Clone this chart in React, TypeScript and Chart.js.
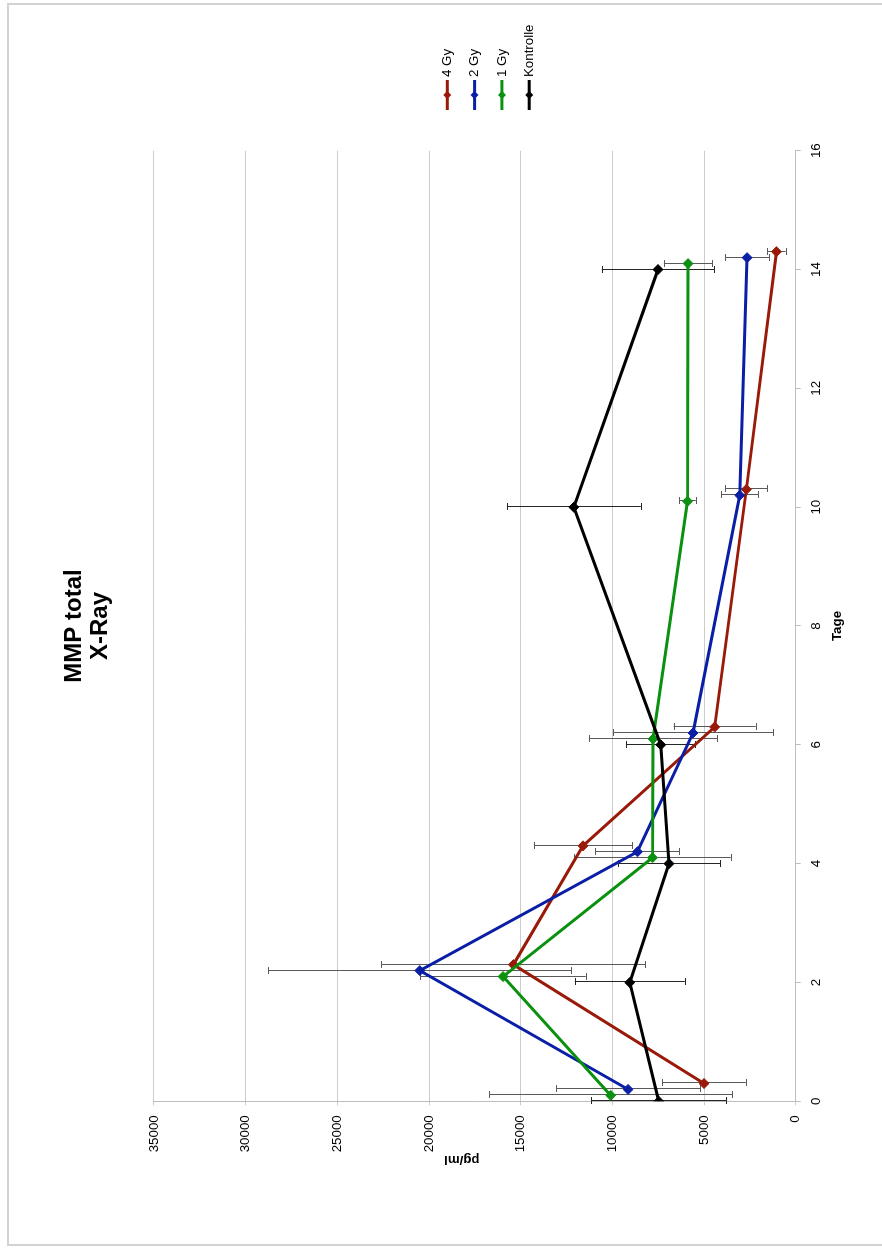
import { useEffect, useRef } from 'react';
import { Chart, registerables } from 'chart.js';

Chart.register(...registerables);

// Days (x values) per series, as plotted (slightly offset per series)
const daysKontrolle = [0, 2, 4, 6, 10, 14];
const days1Gy = [0.1, 2.1, 4.1, 6.1, 10.1, 14.1];
const days2Gy = [0.2, 2.2, 4.2, 6.2, 10.2, 14.2];
const days4Gy = [0.3, 2.3, 4.3, 6.3, 10.3, 14.3];

// Values in pg/ml
const values4Gy = [5000, 15400, 11600, 4420, 2690, 1050];
const errors4Gy = [2280, 7200, 2670, 2240, 1150, 500];
const values2Gy = [9140, 20500, 8630, 5600, 3050, 2650];
const errors2Gy = [3930, 8270, 2290, 4360, 1020, 1200];
const values1Gy = [10090, 15960, 7810, 7780, 5900, 5870];
const errors1Gy = [6630, 4510, 4270, 3500, 450, 1320];
const valuesKontrolle = [7470, 9050, 6910, 7360, 12100, 7510];
const errorsKontrolle = [3670, 3000, 2800, 1880, 3650, 3070];

const seriesLabels = ['4 Gy', '2 Gy', '1 Gy', 'Kontrolle'];
const seriesColors = ['#9a1a0a', '#0a1fa6', '#0a910f', '#000000'];

const titleLines = ['MMP total', 'X-Ray'];
const xAxisTitle = 'Tage';
const yAxisTitle = 'pg/ml';
const xMin = 0;
const xMax = 16;
const xStep = 2;
const yMin = 0;
const yMax = 35000;
const yStep = 5000;

const FONT = "'Liberation Sans', Arial, sans-serif";

function toPoints(days: number[], values: number[]) {
  return days.map((d, i) => ({ x: d, y: values[i] }));
}

const errorBarPlugin = {
  id: 'errorBars',
  beforeDatasetsDraw(chart: any) {
    const ctx = chart.ctx;
    const xs = chart.scales.x;
    const ys = chart.scales.y;
    ctx.save();
    chart.data.datasets.forEach((ds: any) => {
      const errs: number[] = ds.errors || [];
      ctx.strokeStyle = ds.errorColor || '#505050';
      ctx.lineWidth = 1;
      ds.data.forEach((p: any, i: number) => {
        const e = errs[i];
        if (e == null) return;
        const x = Math.round(xs.getPixelForValue(p.x)) + 0.5;
        const y1 = ys.getPixelForValue(p.y - e);
        const y2 = ys.getPixelForValue(p.y + e);
        ctx.beginPath();
        ctx.moveTo(x, y1);
        ctx.lineTo(x, y2);
        ctx.moveTo(x - 3.5, Math.round(y1) + 0.5);
        ctx.lineTo(x + 3.5, Math.round(y1) + 0.5);
        ctx.moveTo(x - 3.5, Math.round(y2) + 0.5);
        ctx.lineTo(x + 3.5, Math.round(y2) + 0.5);
        ctx.stroke();
      });
    });
    ctx.restore();
  },
};

const legendPlugin = {
  id: 'sideLegend',
  afterDraw(chart: any) {
    const ctx = chart.ctx;
    const area = chart.chartArea;
    const x0 = area.right + 40.7;
    const x1 = x0 + 30;
    const firstY = 439.3;
    const gap = 27.3;
    ctx.save();
    seriesLabels.forEach((label, i) => {
      const y = firstY + i * gap;
      const c = seriesColors[i];
      ctx.strokeStyle = c;
      ctx.fillStyle = c;
      ctx.lineWidth = 3;
      ctx.beginPath();
      ctx.moveTo(x0, y);
      ctx.lineTo(x1, y);
      ctx.stroke();
      const mx = (x0 + x1) / 2;
      const r = 4;
      ctx.beginPath();
      ctx.moveTo(mx - r, y);
      ctx.lineTo(mx, y - r);
      ctx.lineTo(mx + r, y);
      ctx.lineTo(mx, y + r);
      ctx.closePath();
      ctx.fill();
      ctx.fillStyle = '#000';
      ctx.font = `13.3px ${FONT}`;
      ctx.textAlign = 'left';
      ctx.textBaseline = 'middle';
      ctx.fillText(label, x1 + 3, y);
    });
    // value-axis title
    const ys = chart.scales.y;
    ctx.translate(ys.left + 86, area.top + (area.bottom - area.top) / 2 - 13);
    ctx.rotate(-Math.PI / 2);
    ctx.fillStyle = '#000';
    ctx.font = `bold 13.3px ${FONT}`;
    ctx.textAlign = 'center';
    ctx.textBaseline = 'middle';
    ctx.fillText(yAxisTitle, 0, 0);
    ctx.restore();
  },
};

export default function App() {
  const canvasRef = useRef<HTMLCanvasElement | null>(null);

  useEffect(() => {
    document.body.style.margin = '0';
    const canvas = canvasRef.current;
    if (!canvas) return;
    const mk = (i: number, days: number[], vals: number[], errs: number[], order: number) => ({
      label: seriesLabels[i],
      data: toPoints(days, vals),
      errors: errs,
      errorColor: i === 3 ? '#262626' : '#5a5a5a',
      showLine: true,
      borderColor: seriesColors[i],
      backgroundColor: seriesColors[i],
      borderWidth: 3,
      pointStyle: 'rectRot',
      pointRadius: 5,
      pointBorderWidth: 1,
      pointBackgroundColor: seriesColors[i],
      pointBorderColor: seriesColors[i],
      tension: 0,
      order,
    });
    const tickFont = { family: FONT, size: 13.3 };
    const chart = new Chart(canvas, {
      type: 'scatter',
      data: {
        datasets: [
          mk(0, days4Gy, values4Gy, errors4Gy, 3),
          mk(1, days2Gy, values2Gy, errors2Gy, 2),
          mk(2, days1Gy, values1Gy, errors1Gy, 1),
          mk(3, daysKontrolle, valuesKontrolle, errorsKontrolle, 0),
        ] as any,
      },
      options: {
        animation: false,
        responsive: false,
        devicePixelRatio: 1,
        events: [],
        layout: { padding: { left: 0, right: 146.7, top: 0, bottom: 0 } },
        plugins: {
          legend: { display: false },
          tooltip: { enabled: false },
          title: {
            display: true,
            text: titleLines,
            fullSize: false,
            color: '#000',
            font: { family: FONT, size: 24, weight: 'bold', lineHeight: 1.104 },
            padding: { top: 52.75, bottom: 40.25 },
          },
        },
        scales: {
          x: {
            type: 'linear',
            position: 'bottom',
            min: xMin,
            max: xMax,
            ticks: { stepSize: xStep, padding: 8, color: '#000', font: tickFont, maxRotation: 0, autoSkip: false },
            grid: { drawOnChartArea: false, drawTicks: true, tickLength: 5, color: '#bdbdbd' },
            border: { display: true, color: '#bdbdbd' },
            title: {
              display: true,
              text: xAxisTitle,
              color: '#000',
              font: { family: FONT, size: 13.3, weight: 'bold', lineHeight: 1.2 },
              padding: { top: 0, bottom: 35.5 },
            },
            afterFit: (s: any) => { s.height = 85.3; },
          },
          y: {
            type: 'linear',
            position: 'left',
            min: yMin,
            max: yMax,
            ticks: {
              stepSize: yStep,
              padding: 10,
              color: '#000',
              font: tickFont,
              callback: (v: any) => String(v),
            },
            grid: { color: '#cccccc', tickLength: 4 },
            border: { display: true, color: '#bdbdbd' },
            title: { display: false, text: yAxisTitle },
            afterFit: (s: any) => { s.width = 144.7; },
          },
        },
      } as any,
      plugins: [errorBarPlugin, legendPlugin],
    });
    return () => chart.destroy();
  }, []);

  return (
    <div style={{ position: 'absolute', left: 0, top: 0, width: 882, height: 1248, overflow: 'hidden', background: '#fff' }}>
      <div
        style={{
          position: 'absolute',
          left: 7,
          top: 3,
          width: 880,
          height: 1243,
          boxSizing: 'border-box',
          borderLeft: '2px solid #d2d2d2',
          borderTop: '2px solid #d2d2d2',
          borderBottom: '2px solid #d2d2d2',
        }}
      />
      <canvas
        ref={canvasRef}
        width={1242}
        height={873}
        style={{
          position: 'absolute',
          left: 0,
          top: 0,
          width: 1242,
          height: 873,
          transformOrigin: '0 0',
          transform: 'translate(8px, 1246px) rotate(-90deg)',
        }}
      />
    </div>
  );
}
